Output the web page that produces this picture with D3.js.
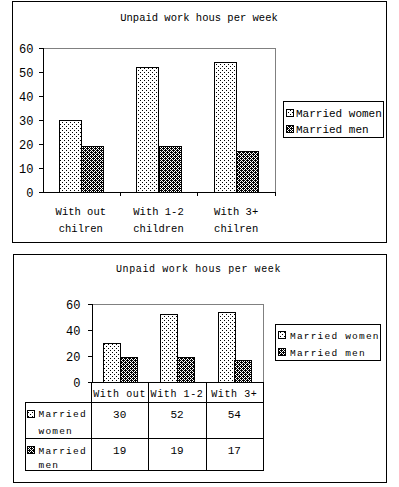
<!DOCTYPE html>
<html><head><meta charset="utf-8">
<script src="https://cdn.jsdelivr.net/npm/d3@7"></script>
<style>
html,body{margin:0;padding:0;background:#fff;}
text{font-family:"Liberation Mono","DejaVu Sans Mono",monospace;fill:#000;}
</style></head>
<body>
<script>
const title = "Unpaid work hous per week";
const categories = ["With out chilren", "With 1-2 children", "With 3+ chilren"];
const catLines = [["With out","chilren"],["With 1-2","children"],["With 3+","chilren"]];
const tableHeaders = ["With out","With 1-2","With 3+"];
const seriesNames = ["Married women", "Married men"];
const seriesLines = [["Married","women"],["Married","men"]];
const women = [30, 52, 54];
const men = [19, 19, 17];
const yTicksTop = [0,10,20,30,40,50,60];
const yTicksBottom = [0,20,40,60];
const values = [women, men];

const svg = d3.select("body").append("svg").attr("width",399).attr("height",487)
  .attr("shape-rendering","crispEdges");
const defs = svg.append("defs");
const pw = defs.append("pattern").attr("id","pWomen").attr("patternUnits","userSpaceOnUse")
  .attr("width",4).attr("height",4);
pw.append("rect").attr("width",4).attr("height",4).attr("fill","#fff");
[[0,0],[2,2]].forEach(p=>pw.append("rect").attr("x",p[0]).attr("y",p[1]).attr("width",1).attr("height",1).attr("fill","#000"));
const pm = defs.append("pattern").attr("id","pMen").attr("patternUnits","userSpaceOnUse")
  .attr("width",4).attr("height",4);
pm.append("rect").attr("width",4).attr("height",4).attr("fill","#fff");
[[0,0],[2,0],[1,1],[3,1],[0,2],[2,2],[1,3],[3,3],[3,0],[1,2]].forEach(p=>pm.append("rect").attr("x",p[0]).attr("y",p[1]).attr("width",1).attr("height",1).attr("fill","#000"));
const fills = ["url(#pWomen)","url(#pMen)"];

/* ---------------- TOP CHART ---------------- */
svg.append("rect").attr("x",12.5).attr("y",1.5).attr("width",374).attr("height",241)
  .attr("fill","none").attr("stroke","#000");
svg.append("text").attr("x",199).attr("y",21).attr("text-anchor","middle")
  .style("font-size","10.5px").text(title);

const T = {l:42, r:275, t:48, b:192};
const xT = d3.scaleBand().domain(categories).range([T.l,T.r]);
const sT = d3.scaleBand().domain(seriesNames).range([0,xT.bandwidth()]).paddingOuter(0.76);
const yT = d3.scaleLinear().domain([0,60]).range([T.b,T.t]);

svg.append("path").attr("d",`M${T.l},${T.t+0.5}H${T.r+0.5}V${T.b}`).attr("fill","none").attr("stroke","#808080");
seriesNames.forEach((s,si)=>{
  svg.append("g").selectAll("rect").data(categories).join("rect")
    .attr("x",d=>Math.round(xT(d)+sT(s))+0.5)
    .attr("y",(d,i)=>Math.round(yT(values[si][i]))+0.5)
    .attr("width",Math.round(sT.bandwidth()))
    .attr("height",(d,i)=>Math.round(T.b-yT(values[si][i])))
    .attr("fill",fills[si]).attr("stroke","#000");
});
const gyT = svg.append("g").attr("transform",`translate(${T.l+0.5},0)`)
  .call(d3.axisLeft(yT).tickValues(yTicksTop).tickSize(4).tickPadding(5).tickFormat(d3.format("d")));
gyT.select(".domain").attr("stroke","#000");
gyT.selectAll("text").style("font-size","12px").attr("dy","0.36em");
svg.append("line").attr("x1",T.l).attr("x2",T.r+1).attr("y1",T.b+0.5).attr("y2",T.b+0.5).attr("stroke","#000");
const boundsT = categories.map(c=>xT(c)).concat([T.r]);
svg.append("g").selectAll("line").data(boundsT.slice(1)).join("line")
  .attr("x1",d=>Math.round(d)+0.5).attr("x2",d=>Math.round(d)+0.5)
  .attr("y1",T.b).attr("y2",T.b+4).attr("stroke","#000");
categories.forEach((c,i)=>{
  catLines[i].forEach((ln,j)=>{
    svg.append("text").attr("x",xT(c)+xT.bandwidth()/2).attr("y",215+j*16.5)
      .attr("text-anchor","middle").style("font-size","10.5px").text(ln);
  });
});
svg.append("rect").attr("x",283.5).attr("y",101.5).attr("width",100).attr("height",36)
  .attr("fill","#fff").attr("stroke","#000");
seriesNames.forEach((s,i)=>{
  svg.append("rect").attr("x",286.5).attr("y",109.5+i*16).attr("width",7).attr("height",7)
    .attr("fill",fills[i]).attr("stroke","#000");
  svg.append("text").attr("x",296).attr("y",117+i*16).style("font-size","11px").text(s);
});

/* ---------------- BOTTOM CHART ---------------- */
svg.append("rect").attr("x",13.5).attr("y",254.5).attr("width",373).attr("height",228)
  .attr("fill","none").attr("stroke","#000");
svg.append("text").attr("x",198.5).attr("y",272).attr("text-anchor","middle")
  .style("font-size","10px").style("letter-spacing","0.6px").text(title);

const B = {l:91, r:263, t:304, b:382};
const xB = d3.scaleBand().domain(categories).range([B.l,B.r]);
const sB = d3.scaleBand().domain(seriesNames).range([0,xB.bandwidth()]).paddingOuter(0.72);
const yB = d3.scaleLinear().domain([0,60]).range([B.b,B.t]);

svg.append("path").attr("d",`M${B.l},${B.t+0.5}H${B.r+0.5}V${B.b}`).attr("fill","none").attr("stroke","#808080");
seriesNames.forEach((s,si)=>{
  svg.append("g").selectAll("rect").data(categories).join("rect")
    .attr("x",d=>Math.round(xB(d)+sB(s))+0.5)
    .attr("y",(d,i)=>Math.round(yB(values[si][i]))+0.5)
    .attr("width",Math.round(sB.bandwidth()))
    .attr("height",(d,i)=>Math.round(B.b-yB(values[si][i])))
    .attr("fill",fills[si]).attr("stroke","#000");
});
const gyB = svg.append("g").attr("transform",`translate(${B.l+0.5},0)`)
  .call(d3.axisLeft(yB).tickValues(yTicksBottom).tickSize(4).tickPadding(7).tickFormat(d3.format("d")));
gyB.select(".domain").attr("stroke","#000");
gyB.selectAll("text").style("font-size","12px").attr("dy","0.36em");

const tblLeft = 25;
const rowY = [382, 402, 438, 470];
const colX = categories.map(c=>xB(c)).concat([B.r]);
const grid = svg.append("g").attr("stroke","#000");
grid.append("line").attr("x1",B.l).attr("x2",B.r+1).attr("y1",rowY[0]+0.5).attr("y2",rowY[0]+0.5);
[1,2,3].forEach(k=>grid.append("line").attr("x1",tblLeft).attr("x2",B.r+1).attr("y1",rowY[k]+0.5).attr("y2",rowY[k]+0.5));
colX.forEach(x=>grid.append("line").attr("x1",Math.round(x)+0.5).attr("x2",Math.round(x)+0.5).attr("y1",rowY[0]).attr("y2",rowY[3]+1));
grid.append("line").attr("x1",tblLeft+0.5).attr("x2",tblLeft+0.5).attr("y1",rowY[1]).attr("y2",rowY[3]+1);
tableHeaders.forEach((h,i)=>{
  svg.append("text").attr("x",xB(categories[i])+xB.bandwidth()/2).attr("y",396.5)
    .attr("text-anchor","middle").style("font-size","10px").style("letter-spacing","0.6px").text(h);
});
const line1Off = [15, 16];
const line2Off = [32, 30];
seriesNames.forEach((s,si)=>{
  const y0 = rowY[si+1];
  svg.append("rect").attr("x",27.5).attr("y",y0+8.5).attr("width",7).attr("height",7)
    .attr("fill",fills[si]).attr("stroke","#000");
  svg.append("text").attr("x",38.5).attr("y",y0+line1Off[si]).style("font-size","9.5px").style("letter-spacing","1.2px").text(seriesLines[si][0]);
  svg.append("text").attr("x",38.5).attr("y",y0+line2Off[si]).style("font-size","9.5px").style("letter-spacing","1.2px").text(seriesLines[si][1]);
  values[si].forEach((v,i)=>{
    svg.append("text").attr("x",xB(categories[i])+xB.bandwidth()/2).attr("y",y0+16)
      .attr("text-anchor","middle").style("font-size","11px").text(v);
  });
});
svg.append("rect").attr("x",275.5).attr("y",324.5).attr("width",105).attr("height",36)
  .attr("fill","#fff").attr("stroke","#000");
seriesNames.forEach((s,i)=>{
  svg.append("rect").attr("x",278.5).attr("y",331.5+i*16.5).attr("width",7).attr("height",7)
    .attr("fill",fills[i]).attr("stroke","#000");
  svg.append("text").attr("x",290).attr("y",339+i*16.5).style("font-size","9.5px").style("letter-spacing","1.2px").text(s);
});
</script>
</body></html>
